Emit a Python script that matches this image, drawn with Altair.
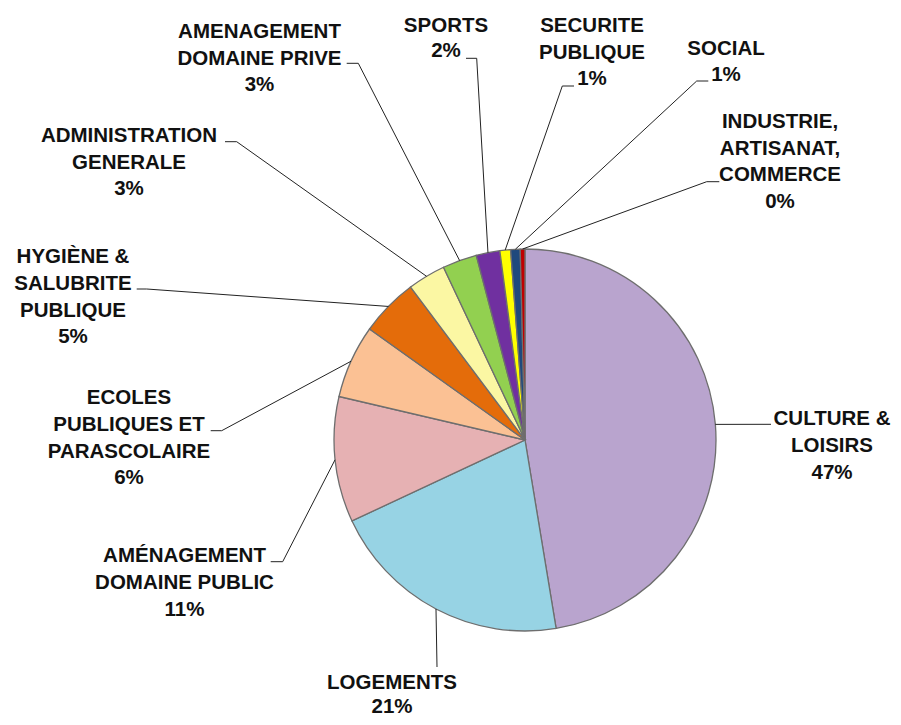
import altair as alt
import numpy as np
import pandas as pd

# ---------------- data ----------------
categories = [
    "CULTURE & LOISIRS", "LOGEMENTS", "AMÉNAGEMENT DOMAINE PUBLIC",
    "ECOLES PUBLIQUES ET PARASCOLAIRE", "HYGIÈNE & SALUBRITE PUBLIQUE",
    "ADMINISTRATION GENERALE", "AMENAGEMENT DOMAINE PRIVE", "SPORTS",
    "SECURITE PUBLIQUE", "SOCIAL", "INDUSTRIE, ARTISANAT, COMMERCE",
]
values = [47.3, 20.6, 10.6, 6.2, 4.9, 3.2, 2.9, 2.0, 0.9, 0.8, 0.4]
pct_labels = ["47%", "21%", "11%", "6%", "5%", "3%", "3%", "2%", "1%", "1%", "0%"]
label_lines = [
    ["CULTURE &", "LOISIRS"],
    ["LOGEMENTS"],
    ["AMÉNAGEMENT", "DOMAINE PUBLIC"],
    ["ECOLES", "PUBLIQUES ET", "PARASCOLAIRE"],
    ["HYGIÈNE &", "SALUBRITE", "PUBLIQUE"],
    ["ADMINISTRATION", "GENERALE"],
    ["AMENAGEMENT", "DOMAINE PRIVE"],
    ["SPORTS"],
    ["SECURITE", "PUBLIQUE"],
    ["SOCIAL"],
    ["INDUSTRIE,", "ARTISANAT,", "COMMERCE"],
]
colors = ["#B9A4CE", "#97D3E4", "#E6B1B3", "#FBC194", "#E46C0A", "#FBF7A3",
          "#92D050", "#7030A0", "#FFFF00", "#1F497D", "#C00000"]

# ---------------- layout (page pixel coordinates) ----------------
W, H = 885, 709
CX, CY, R = 525, 440, 191
label_x = [832, 392, 184.5, 129, 73, 129, 259.5, 446, 592, 726, 780]
label_y0 = [425, 689, 562, 404, 263, 141.7, 38.3, 31.7, 32.3, 55, 128.3]
line_h = [27, 24, 26.8, 26.8, 26.8, 26.8, 26.2, 25.5, 26.5, 26, 26.4]
leader_ends = [
    [(771.0, 424.3)],
    [(437, 667)],
    [(282.7, 561.7), (270.7, 561.7)],
    [(221.7, 430.7), (210.7, 430.7)],
    [(146.7, 289.0), (136.7, 289.0)],
    [(236.7, 141.7), (225.0, 141.7)],
    [(358.3, 63.3), (346.7, 63.3)],
    [(476.7, 58.3), (466.0, 58.3)],
    [(562.3, 86.0), (574.0, 86.0)],
    [(696.7, 81.0), (708.3, 81.0)],
    [(706.7, 181.7), (719.3, 181.7)],
]

# ---------------- tables ----------------
pie_df = pd.DataFrame({"cat": categories, "value": values, "idx": range(len(values))})

vals = np.array(values, dtype=float)
cum = np.cumsum(vals)
mid = (cum - vals / 2) / vals.sum() * 2 * np.pi

line_rows = []
for i, cat in enumerate(categories):
    pts = [(CX + R * np.sin(mid[i]), CY - R * np.cos(mid[i]))] + leader_ends[i]
    for k, (px, py) in enumerate(pts):
        line_rows.append({"cat": cat, "k": k, "x": px, "y": py})
line_df = pd.DataFrame(line_rows)

text_rows = []
for i, cat in enumerate(categories):
    lines = label_lines[i] + [pct_labels[i]]
    for j, t in enumerate(lines):
        text_rows.append({"cat": cat, "t": t, "x": label_x[i], "y": label_y0[i] + j * line_h[i]})
text_df = pd.DataFrame(text_rows)

xs = alt.Scale(domain=[8, 8 + W], range=[0, W])
ys = alt.Scale(domain=[8, 8 + H], range=[0, H])

pie = alt.Chart(pie_df).mark_arc(
    outerRadius=R, stroke="#6e6e6e", strokeWidth=1.3
).encode(
    theta=alt.Theta("value:Q", stack=True),
    color=alt.Color("cat:N", scale=alt.Scale(domain=categories, range=colors), legend=None),
    order=alt.Order("idx:Q"),
    x=alt.value(CX - 8),
    y=alt.value(CY - 8),
)

leaders = alt.Chart(line_df).mark_line(color="#222222", strokeWidth=1).encode(
    x=alt.X("x:Q", scale=xs, axis=None),
    y=alt.Y("y:Q", scale=ys, axis=None),
    detail="cat:N",
    order="k:Q",
)

labels = alt.Chart(text_df).mark_text(
    font="Liberation Sans", fontWeight="bold", fontSize=20.5,
    align="center", baseline="alphabetic", color="#111111",
).encode(
    x=alt.X("x:Q", scale=xs, axis=None),
    y=alt.Y("y:Q", scale=ys, axis=None),
    text="t:N",
)

chart = alt.layer(pie, leaders, labels).properties(
    width=W, height=H,
    autosize=alt.AutoSizeParams(type="none"),
    padding=0,
).configure_view(stroke=None)

chart.save("out.html", embed_options={"renderer": "svg", "actions": False})
